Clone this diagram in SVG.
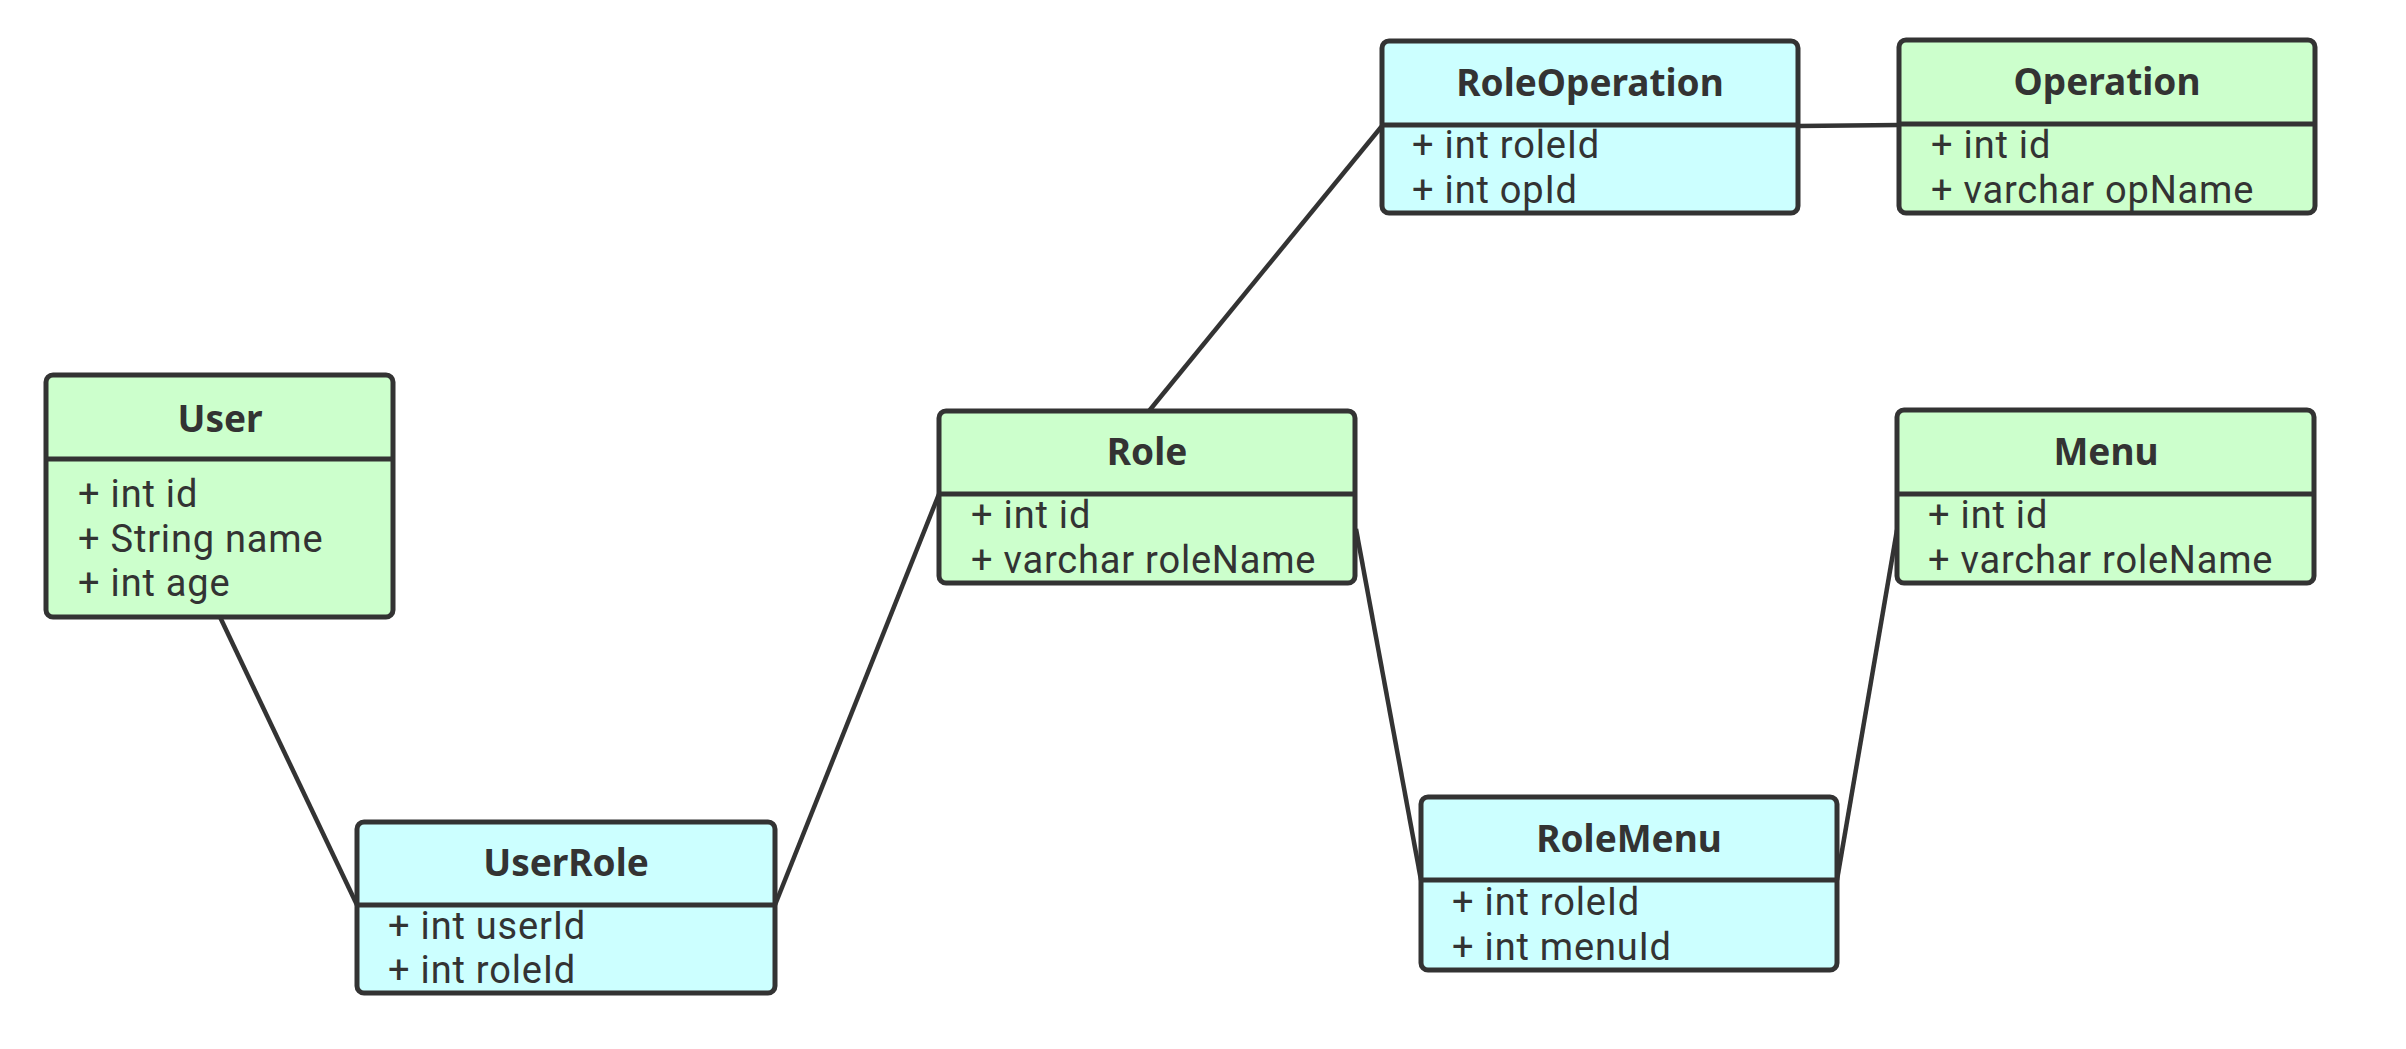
<svg xmlns="http://www.w3.org/2000/svg" width="2406" height="1049" viewBox="0 0 2406 1049">
<style>
.box{stroke:#333333;stroke-width:5;}
.g{fill:#CCFFCC;}
.c{fill:#CCFFFF;}
.div{stroke:#333333;stroke-width:5;}
.t{font-family:"Noto Sans","Open Sans",sans-serif;font-size:37px;font-weight:bold;fill:#333333;text-anchor:middle;}
.a{font-family:Roboto,"Noto Sans",sans-serif;font-size:38px;letter-spacing:0.8px;fill:#333333;}
.conn line{stroke:#333333;stroke-width:4.5;fill:none;}
</style>
<rect width="2406" height="1049" fill="#ffffff"/>
<g id="connectors" class="conn">
<line x1="220" y1="617" x2="357" y2="905"/>
<line x1="775" y1="905" x2="939" y2="494"/>
<line x1="1149" y1="411" x2="1382" y2="126"/>
<line x1="1798" y1="126" x2="1899" y2="125"/>
<line x1="1356" y1="529" x2="1421" y2="880"/>
<line x1="1837" y1="880" x2="1897" y2="530"/>
</g>
<g id="User">
<rect class="box g" x="46" y="375" width="347" height="242" rx="7"/>
<line class="div" x1="46" y1="459" x2="393" y2="459"/>
<text class="t" x="220" y="432">User</text>
<text class="a" x="78" y="507">+ int id</text>
<text class="a" x="78" y="552">+ String name</text>
<text class="a" x="78" y="596">+ int age</text>
</g>
<g id="UserRole">
<rect class="box c" x="357" y="822" width="418" height="171" rx="7"/>
<line class="div" x1="357" y1="905" x2="775" y2="905"/>
<text class="t" x="566" y="876">UserRole</text>
<text class="a" x="388" y="939">+ int userId</text>
<text class="a" x="388" y="983">+ int roleId</text>
</g>
<g id="Role">
<rect class="box g" x="939" y="411" width="416" height="172" rx="7"/>
<line class="div" x1="939" y1="494" x2="1355" y2="494"/>
<text class="t" x="1147" y="465">Role</text>
<text class="a" x="971" y="528">+ int id</text>
<text class="a" x="971" y="573">+ varchar roleName</text>
</g>
<g id="RoleOperation">
<rect class="box c" x="1382" y="41" width="416" height="172" rx="7"/>
<line class="div" x1="1382" y1="125" x2="1798" y2="125"/>
<text class="t" x="1590" y="96">RoleOperation</text>
<text class="a" x="1412" y="158">+ int roleId</text>
<text class="a" x="1412" y="203">+ int opId</text>
</g>
<g id="Operation">
<rect class="box g" x="1899" y="40" width="416" height="173" rx="7"/>
<line class="div" x1="1899" y1="124" x2="2315" y2="124"/>
<text class="t" x="2107" y="95">Operation</text>
<text class="a" x="1931" y="158">+ int id</text>
<text class="a" x="1931" y="203">+ varchar opName</text>
</g>
<g id="RoleMenu">
<rect class="box c" x="1421" y="797" width="416" height="173" rx="7"/>
<line class="div" x1="1421" y1="880" x2="1837" y2="880"/>
<text class="t" x="1629" y="852">RoleMenu</text>
<text class="a" x="1452" y="915">+ int roleId</text>
<text class="a" x="1452" y="960">+ int menuId</text>
</g>
<g id="Menu">
<rect class="box g" x="1897" y="410" width="417" height="173" rx="7"/>
<line class="div" x1="1897" y1="494" x2="2314" y2="494"/>
<text class="t" x="2106" y="465">Menu</text>
<text class="a" x="1928" y="528">+ int id</text>
<text class="a" x="1928" y="573">+ varchar roleName</text>
</g>
</svg>
